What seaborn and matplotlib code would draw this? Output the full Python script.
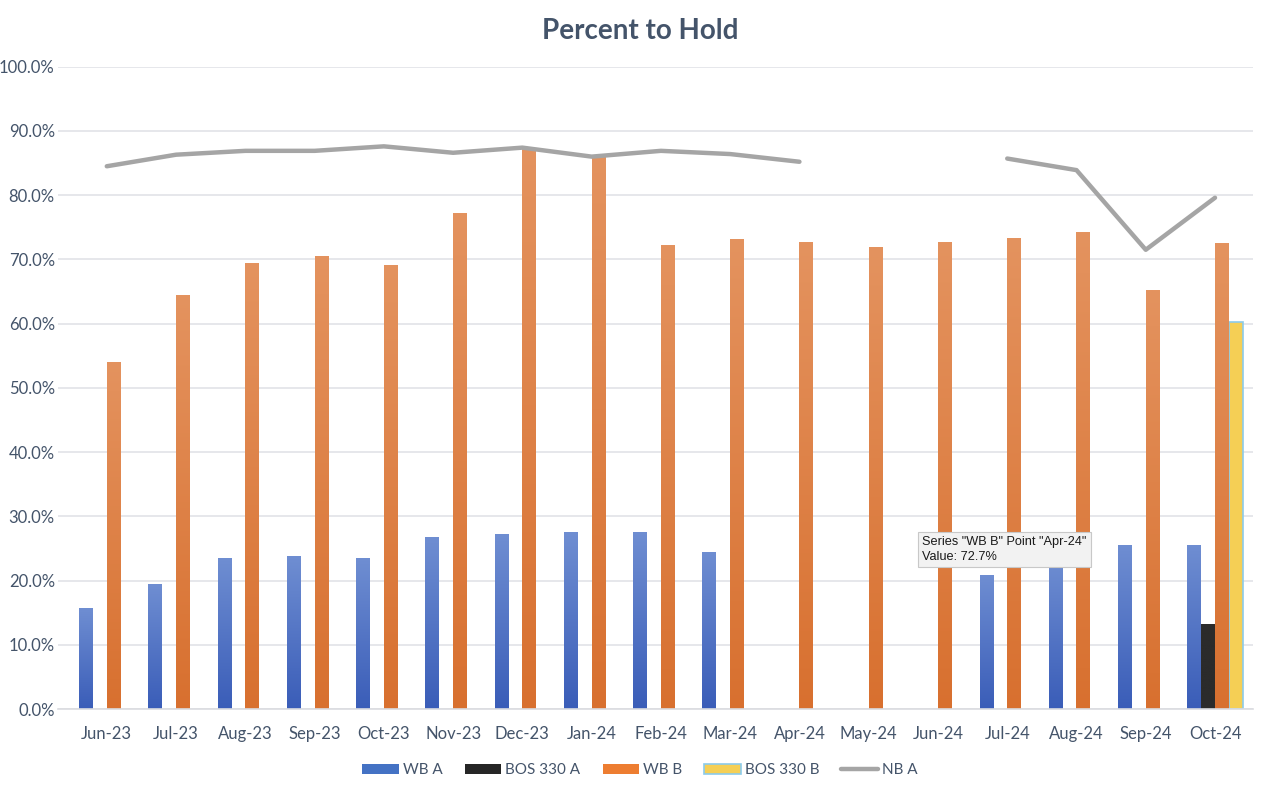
import matplotlib
matplotlib.use('Agg')
import matplotlib.pyplot as plt
import matplotlib.colors as mcolors
from matplotlib.patches import Patch
from matplotlib.lines import Line2D
import numpy as np
import pandas as pd
import seaborn as sns

nan = np.nan

# Data
months = ['Jun-23', 'Jul-23', 'Aug-23', 'Sep-23', 'Oct-23', 'Nov-23', 'Dec-23', 'Jan-24',
          'Feb-24', 'Mar-24', 'Apr-24', 'May-24', 'Jun-24', 'Jul-24', 'Aug-24', 'Sep-24', 'Oct-24']
wb_a = [15.7, 19.4, 23.5, 23.8, 23.5, 26.8, 27.2, 27.5, 27.6, 24.5, nan, nan, nan, 20.9, 23.4, 25.6, 25.6]
bos330_a = [nan] * 16 + [13.2]
wb_b = [54.1, 64.4, 69.4, 70.6, 69.2, 77.2, 87.3, 86.0, 72.2, 73.2, 72.7, 72.0, 72.7, 73.3, 74.2, 65.2, 72.5]
bos330_b = [nan] * 16 + [60.3]
nb_a = [84.5, 86.3, 86.9, 86.9, 87.6, 86.6, 87.4, 86.0, 86.9, 86.4, 85.2, nan, nan, 85.7, 83.9, 71.5, 79.6]

series_names = ['WB A', 'BOS 330 A', 'WB B', 'BOS 330 B']
series_colors = ['#4472C4', '#262626', '#ED7D31', '#F5CF55']
# top / bottom colours of the bar gradients
grad_colors = [('#6F8ED2', '#3A5DB8'), ('#2B2B2B', '#2B2B2B'),
               ('#E4935F', '#D8702F'), ('#F5CF55', '#F5CF55')]

df = pd.DataFrame({'month': months * 4,
                   'series': np.repeat(series_names, len(months)),
                   'value': wb_a + bos330_a + wb_b + bos330_b})

sns.set_style('white')
plt.rcParams['font.family'] = ['Lato', 'DejaVu Sans']

text_col = '#44546A'
fig = plt.figure(figsize=(12.8, 7.94), dpi=100)
ax = fig.add_axes([0.045, 0.107, 0.934, 0.809])

sns.barplot(data=df, x='month', y='value', hue='series', order=months,
            hue_order=series_names, palette=series_colors, ax=ax,
            width=0.8, errorbar=None, legend=False, saturation=1)

# gradient fills on bars
for i, cont in enumerate(ax.containers):
    top, bot = grad_colors[i]
    cmap = mcolors.LinearSegmentedColormap.from_list('g%d' % i, [bot, top])
    for bar in cont:
        h = bar.get_height()
        if not np.isfinite(h) or h <= 0:
            continue
        x0 = bar.get_x()
        w = bar.get_width()
        if i == 3:
            bar.set_edgecolor('#8CCBEA')
            bar.set_linewidth(1.2)
            continue
        bar.set_edgecolor('none')
        grad = np.linspace(0, 1, 256).reshape(-1, 1)
        im = ax.imshow(grad, cmap=cmap, origin='lower', aspect='auto',
                       extent=(x0, x0 + w, 0, h), zorder=bar.get_zorder() + 0.1)
        im.set_clip_path(bar)

ax.plot(range(len(months)), nb_a, color='#A5A5A5', linewidth=3.2,
        solid_capstyle='round', zorder=5)

ax.set_xlim(-0.71, len(months) - 0.45)
ax.set_ylim(0, 100)
ax.set_yticks(np.arange(0, 101, 10))
ax.set_yticklabels(['%.1f%%' % v for v in np.arange(0, 101, 10)])
ax.yaxis.grid(True, color='#E1E3E8', linewidth=1.2)
ax.set_axisbelow(True)
for s in ['top', 'right', 'left']:
    ax.spines[s].set_visible(False)
ax.spines['bottom'].set_color('#DADCE0')
ax.spines['bottom'].set_linewidth(1.2)
ax.tick_params(axis='both', length=0, labelsize=12, labelcolor=text_col)
ax.tick_params(axis='x', pad=12)
ax.tick_params(axis='y', pad=2)
ax.set_xlabel('')
ax.set_ylabel('')

fig.text(0.5, 0.961, 'Percent to Hold', ha='center', va='center',
         fontsize=20, fontweight='bold', color=text_col)

handles = [Patch(facecolor=series_colors[0], edgecolor='none'),
           Patch(facecolor=series_colors[1], edgecolor='none'),
           Patch(facecolor=series_colors[2], edgecolor='none'),
           Patch(facecolor=series_colors[3], edgecolor='#8CCBEA', linewidth=1.2),
           Line2D([0], [0], color='#A5A5A5', linewidth=3.2)]
fig.legend(handles, ['WB A', 'BOS 330 A', 'WB B', 'BOS 330 B', 'NB A'],
           loc='center', bbox_to_anchor=(0.5, 0.03), ncol=5, frameon=False,
           fontsize=11, handlelength=2.4, handleheight=0.6, columnspacing=1.45,
           handletextpad=0.25, labelcolor=text_col)

# hover tooltip seen in the screenshot
fig.text(0.7205, 0.308, 'Series "WB B" Point "Apr-24"\nValue: 72.7%',
         fontsize=9.2, family=['Liberation Sans', 'DejaVu Sans'], color='#1A1A1A',
         va='center', ha='left', linespacing=1.3, zorder=20,
         bbox=dict(boxstyle='square,pad=0.35', facecolor='#F2F2F2',
                   edgecolor='#C8C8C8', linewidth=0.8))

fig.savefig('out.png', dpi=100)
